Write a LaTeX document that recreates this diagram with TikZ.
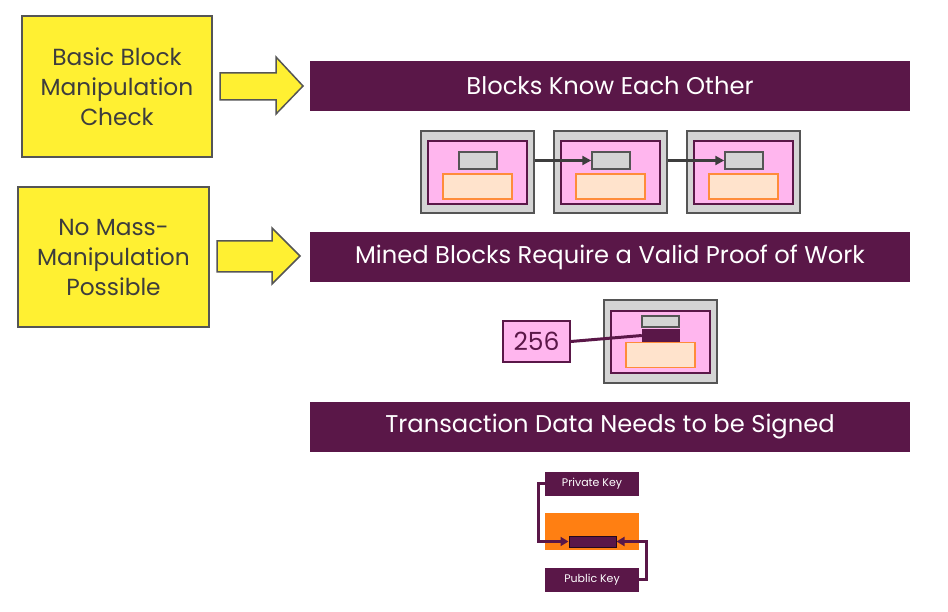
\documentclass[tikz,border=0pt]{standalone}
\usepackage{fontspec}
\setmainfont{Poppins}
\usetikzlibrary{arrows.meta}
\definecolor{yel}{HTML}{FFF032}
\definecolor{pur}{HTML}{5A1748}
\definecolor{pnk}{HTML}{FFB6EE}
\definecolor{bgray}{HTML}{D4D4D4}
\definecolor{bord}{HTML}{555555}
\definecolor{lorg}{HTML}{FFE3CC}
\definecolor{org}{HTML}{FF8C3A}
\definecolor{orgfill}{HTML}{FF7F12}
\definecolor{txtg}{HTML}{3D3D3D}
\tikzset{
  ybox/.style={draw=bord, line width=1.8pt, fill=yel, text=txtg, align=center,
    font=\fontsize{23.3}{30}\selectfont, inner sep=0pt},
  yarrow/.style={draw=bord, line width=1.5pt, fill=yel},
  banner/.style={draw=none, fill=pur, text=white, minimum width=600pt, minimum height=50pt,
    inner sep=0pt, font=\fontsize{24.2}{28}\selectfont},
  outerb/.style={draw=bord, line width=1.8pt, fill=bgray, minimum width=113pt, minimum height=82pt, inner sep=0pt},
  innerb/.style={draw=pur, line width=1.5pt, fill=pnk, minimum width=99pt, minimum height=63pt, inner sep=0pt},
  grayb/.style={draw=bord, line width=1.5pt, fill=bgray, minimum width=38pt, minimum height=17pt, inner sep=0pt},
  orgb/.style={draw=org, line width=1.5pt, fill=lorg, minimum width=69pt, minimum height=25pt, inner sep=0pt},
  chain/.style={draw=txtg, line width=3pt, -{Triangle[length=9pt,width=9pt]}},
  keyb/.style={fill=pur, text=white, minimum width=94pt, minimum height=24pt, inner sep=0pt,
    font=\fontsize{11}{13}\selectfont},
  purline/.style={draw=pur, line width=3pt},
}
\begin{document}
\begin{tikzpicture}[x=1pt,y=-1pt]
\useasboundingbox (0,0) rectangle (948,612);
% yellow boxes
\node[ybox, minimum width=190pt, minimum height=141pt] (y1) at (117,86.5) {Basic Block\\Manipulation\\Check};
\node[ybox, minimum width=191pt, minimum height=140pt] (y2) at (113.5,257) {No Mass-\\Manipulation\\Possible};
\draw[yarrow] (220,73) -- (276,73) -- (276,57) -- (303,86) -- (276,114) -- (276,100) -- (220,100) -- cycle;
\draw[yarrow] (217,241) -- (272,241) -- (272,228) -- (300,256) -- (272,284) -- (272,272) -- (217,272) -- cycle;
% banners
\node[banner] (b1) at (610,86) {Blocks Know Each Other};
\node[banner] (b2) at (610,257) {Mined Blocks Require a Valid Proof of Work};
\node[banner] (b3) at (610,427) {Transaction Data Needs to be Signed};
% chain
\foreach \i/\dx in {1/0,2/133,3/266}{
  \node[outerb] (o\i) at (477.5+\dx,172) {};
  \node[innerb] (n\i) at (477.5+\dx,172.5) {};
  \node[grayb] (g\i) at (478+\dx,160.5) {};
  \node[orgb] (r\i) at (477.5+\dx,186.5) {};
}
\draw[chain] (o1.east |- g2.west) -- (g2.west);
\draw[chain] (o2.east |- g3.west) -- (g3.west);
% proof of work
\node[outerb, minimum height=83pt] (po) at (660.5,341.5) {};
\node[innerb, minimum height=62pt] (pn) at (660.5,342) {};
\node[grayb, minimum width=37pt, minimum height=11pt] (pg) at (660.5,321.5) {};
\node[draw=pur, fill=pur, minimum width=37pt, minimum height=13pt, inner sep=0pt] (pd) at (660.5,335.5) {};
\node[orgb] (pr) at (660.5,355) {};
\node[draw=pur, line width=1.5pt, fill=pnk, text=pur, minimum width=67pt, minimum height=41pt, inner sep=0pt,
  font=\fontsize{25}{28}\selectfont] (nonce) at (536.5,341.5) {256};
\draw[purline] (nonce.east) -- (pd.west);
% keys
\node[keyb] (priv) at (592,483.5) {Private Key};
\node[fill=orgfill, minimum width=94pt, minimum height=37pt, inner sep=0pt] (data) at (592,531.5) {};
\node[draw=black!60!pur, fill=pur, line width=1pt, minimum width=47pt, minimum height=11pt, inner sep=0pt] (sig) at (592.5,541.5) {};
\node[keyb] (pub) at (592,579.5) {Public Key};
\draw[purline, -{Triangle[length=8pt,width=9pt]}] (priv.west) -- ++(-6,0) |- (sig.west);
\draw[purline, -{Triangle[length=8pt,width=9pt]}] (pub.east) -- ++(7,0) |- (sig.east);
\end{tikzpicture}
\end{document}
